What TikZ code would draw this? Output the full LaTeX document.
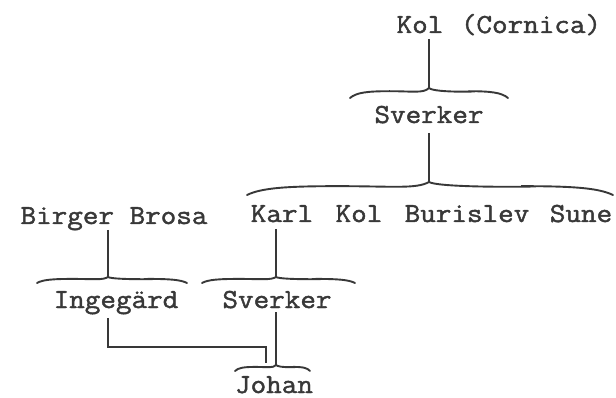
\documentclass[tikz,border=0pt]{standalone}
\usepackage{fontspec}
\newfontfamily\persfont[FakeStretch=1.1,FakeBold=1.6]{Latin Modern Mono}
\definecolor{ink}{HTML}{383838}
\tikzset{
  person/.style={anchor=base, inner sep=0pt, text=ink, font=\persfont\fontsize{27.5}{27.5}\selectfont},
  conn/.style={draw=ink, line width=1.3pt},
  bracel/.style={draw=ink, line width=1.9pt, line cap=round},
}
% #1 left x, #2 tip x, #3 right x, #4 end y, #5 amplitude
\newcommand\fbrace[5]{%
  \draw[bracel] (#1,#4)
    .. controls ({#1+0.08*(#2-#1)},{#4-0.55*#5}) and ({#1+0.22*(#2-#1)},{#4-0.68*#5}) .. ({#1+0.5*(#2-#1)},{#4-0.68*#5})
    .. controls ({#1+0.8*(#2-#1)},{#4-0.68*#5}) and ({#2-0.07*(#2-#1)},{#4-0.45*#5}) .. (#2,{#4-#5})
    .. controls ({#2+0.07*(#3-#2)},{#4-0.45*#5}) and ({#3-0.2*(#3-#2)},{#4-0.68*#5}) .. ({#3-0.5*(#3-#2)},{#4-0.68*#5})
    .. controls ({#3-0.22*(#3-#2)},{#4-0.68*#5}) and ({#3-0.08*(#3-#2)},{#4-0.55*#5}) .. (#3,#4);
}
\begin{document}
\begin{tikzpicture}[x=1pt,y=-1pt]
\useasboundingbox (0,0) rectangle (616,398);
% texts
\node[person] (kol0) at (420,33) {Kol};
\node[person] (corn) at (531,33) {(Cornica)};
\node[person] (sv1) at (429,123) {Sverker};
\node[person] (karl) at (282,222) {Karl};
\node[person] (kol1) at (359,222) {Kol};
\node[person] (buri) at (467,222) {Burislev};
\node[person] (sune) at (581,222) {Sune};
\node[person] (bb) at (114,224) {Birger Brosa};
\node[person] (inge) at (116,308) {Ingegärd};
\node[person] (sv2) at (277,308) {Sverker};
\node[person] (joh) at (274,393) {Johan};
% brace tips
\coordinate (t1) at (429,88);
\coordinate (t2) at (429,182);
\coordinate (t3) at (108,277);
\coordinate (t4) at (276,277);
\coordinate (t5) at (276,365);
\coordinate (j1) at (266,363);
% braces
\fbrace{350}{429}{508}{98}{10}
\fbrace{247}{429}{613}{195}{13}
\fbrace{37}{108}{187}{283}{6}
\fbrace{202}{276}{355}{283}{6}
\fbrace{235}{276}{310}{371}{6}
% connectors
\draw[conn] (t1 |- 0,39) -- (t1);
\draw[conn] (t2 |- 0,133) -- (t2);
\draw[conn] (t3 |- 0,230) -- (t3);
\draw[conn] (t4 |- 0,229) -- (t4);
\draw[conn] (t5 |- 0,312) -- (t5);
\draw[conn] (t3 |- 0,318) |- (j1 |- 0,347) -- (j1);
\end{tikzpicture}
\end{document}
